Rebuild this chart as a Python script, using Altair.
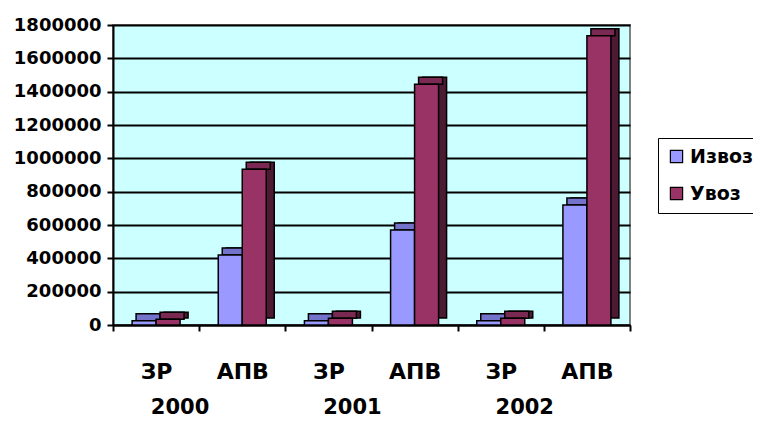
import altair as alt
import pandas as pd

years = ["2000", "2001", "2002"]
types = ["ЗР", "АПВ"]
series_names = ["Извоз", "Увоз"]
izvoz = [25000, 420000, 25000, 570000, 25000, 720000]
uvoz = [35000, 935000, 40000, 1445000, 40000, 1735000]
y_ticks = [0, 200000, 400000, 600000, 800000, 1000000, 1200000, 1400000, 1600000, 1800000]

cats = [f"{y} {t}" for y in years for t in types]
rows = []
for i, c in enumerate(cats):
    rows.append({"cat": c, "series": "Извоз", "value": izvoz[i]})
    rows.append({"cat": c, "series": "Увоз", "value": uvoz[i]})
df = pd.DataFrame(rows)
year_df = pd.DataFrame({"cat": [f"{y} ЗР" for y in years], "year": years})

FONT = "DejaVu Sans"
W, H = 517, 300

xscale = alt.Scale(domain=cats, paddingInner=0, paddingOuter=0)
yscale = alt.Scale(domain=[0, 1800000], nice=False)

x_enc = alt.X(
    "cat:N", scale=xscale, sort=cats, title=None,
    axis=alt.Axis(
        labelExpr="split(datum.value, ' ')[1]", labelAngle=0,
        labelFont=FONT, labelFontWeight="bold", labelFontSize=22, labelColor="black",
        labelPadding=30, tickBand="extent", tickSize=6, tickWidth=2, tickColor="black",
        domainColor="black", domainWidth=2, grid=False,
    ),
)
y_enc = alt.Y(
    "value:Q", scale=yscale, stack=None, title=None,
    axis=alt.Axis(
        values=y_ticks, format="d", labelFont=FONT, labelFontWeight="bold",
        labelFontSize=18, labelColor="black", labelPadding=6, tickSize=6,
        tickWidth=2, tickColor="black", domainColor="black", domainWidth=2,
        gridColor="black", gridWidth=2,
    ),
)

color_enc = alt.Color(
    "series:N",
    scale=alt.Scale(domain=series_names, range=["#9999FF", "#993366"]),
    legend=alt.Legend(
        title=None, orient="none", legendX=545, legendY=113,
        symbolType="square", symbolSize=150, symbolStrokeColor="black",
        symbolStrokeWidth=1.2, labelFont=FONT, labelFontWeight="bold",
        labelFontSize=19, labelColor="black", rowPadding=17, padding=9,
        strokeColor="black", fillColor="white", labelOffset=4,
    ),
)

base = alt.Chart(df)
BW = 24
DX, DY = 8, 7

def bar_layers(name, off, side_col, top_col):
    f = alt.datum.series == name
    side = base.transform_filter(f).mark_bar(
        width=BW, xOffset=off + DX, yOffset=-DY, y2Offset=-DY,
        color=side_col, stroke="black", strokeWidth=1.5,
    ).encode(x=x_enc, y=y_enc, y2=alt.datum(0))
    top = base.transform_filter(f).mark_bar(
        width=BW, xOffset=off + DX / 2, yOffset=-DY, y2Offset=0,
        color=top_col, stroke="black", strokeWidth=1.5,
    ).encode(x=x_enc, y=y_enc, y2=alt.Y2("value:Q"))
    front = base.transform_filter(f).mark_bar(
        width=BW, xOffset=off, stroke="black", strokeWidth=1.5, opacity=1,
    ).encode(x=x_enc, y=y_enc, color=color_enc)
    return [side, top, front]

layers = bar_layers("Извоз", -12, "#4D4D80", "#7373CC") + bar_layers("Увоз", 12, "#4D1A33", "#7A2952")

year_text = alt.Chart(year_df).mark_text(
    font=FONT, fontWeight="bold", fontSize=21, color="black", dx=24, baseline="middle",
).encode(x=alt.X("cat:N", scale=xscale, sort=cats, title=None), y=alt.value(383), text="year:N")

chart = alt.layer(*layers, year_text).properties(
    width=W, height=H,
    autosize=alt.AutoSizeParams(type="none"),
    padding={"left": 105, "top": 17, "right": 123, "bottom": 98},
).configure_view(fill="#CCFFFF", stroke="#808080", strokeWidth=2)

chart.save("out.html", embed_options={"renderer": "svg", "actions": False})
